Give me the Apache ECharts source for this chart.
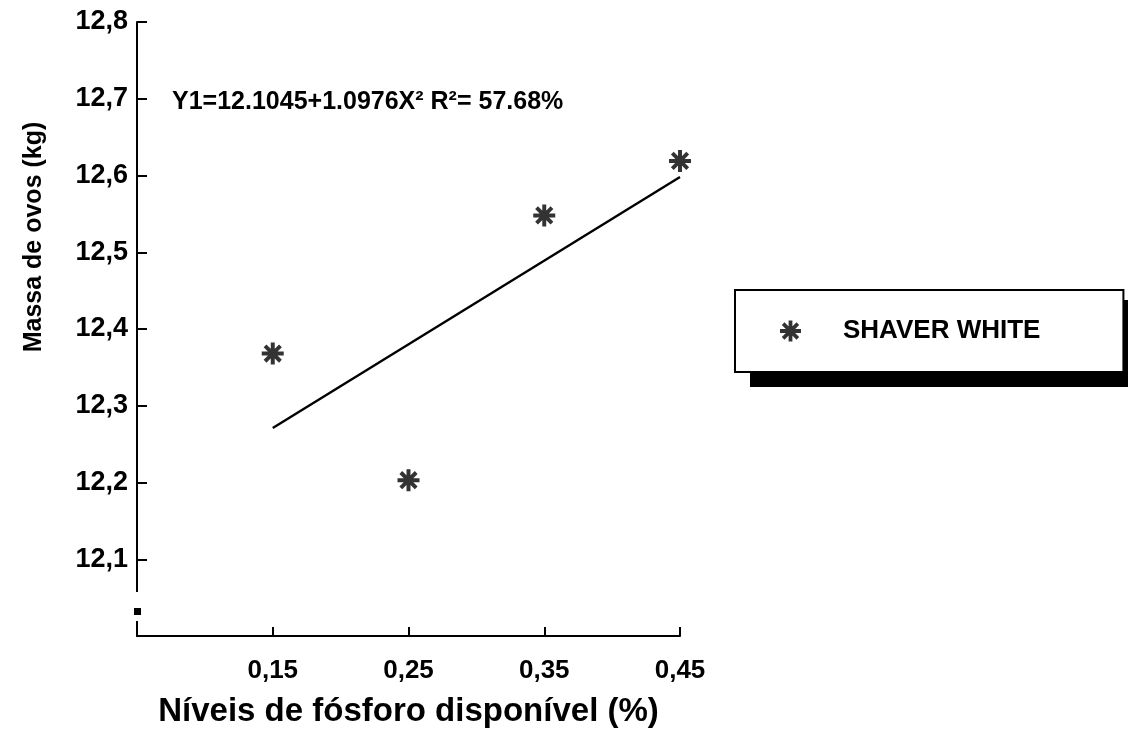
<!DOCTYPE html>
<html>
<head>
<meta charset="utf-8">
<script src="https://cdn.jsdelivr.net/npm/echarts@6/dist/echarts.min.js"></script>
<style>
html,body{margin:0;padding:0;background:#fff;}
#chart{width:1130px;height:733px;}
</style>
</head>
<body>
<div id="chart"></div>
<script>
// ---- data ----
const xLevels = [0.15, 0.25, 0.35, 0.45];
const eggMass = [12.368, 12.203, 12.548, 12.619];
const fitX = [0.15, 0.45];
const fitY = [12.271, 12.598];
const seriesName = 'SHAVER WHITE';
const equationText = 'Y1=12.1045+1.0976X² R²= 57.68%';
const xTitle = 'Níveis de fósforo disponível (%)';
const yTitle = 'Massa de ovos (kg)';

const FONT = '"Liberation Sans", Arial, sans-serif';
const STAR = 'path://M8.2 0 L11.8 0 L11.8 20 L8.2 20 Z M0 8.2 L20 8.2 L20 11.8 L0 11.8 Z M4.27 1.73 L18.27 15.73 L15.73 18.27 L1.73 4.27 Z M18.27 4.27 L4.27 18.27 L1.73 15.73 L15.73 1.73 Z';

const chart = echarts.init(document.getElementById('chart'), null, {renderer: 'canvas'});

const fmt = (v, hideVal) => Math.abs(v - hideVal) < 1e-9 ? '' : String(Number(v.toFixed(2))).replace('.', ',');

const yNameGraphic = {
  type: 'text', x: 34, y: 237, rotation: Math.PI / 2,
  style: {text: yTitle, font: 'bold 25px ' + FONT, fill: '#000', align: 'center', verticalAlign: 'middle'}
};
const legendShadow = {type: 'rect', shape: {x: 750, y: 300, width: 378, height: 87}, style: {fill: '#000'}, z: 3};

chart.setOption({
  backgroundColor: '#fff',
  animation: false,
  title: {
    text: equationText,
    left: 172, top: 90, padding: 0,
    textStyle: {fontFamily: FONT, fontWeight: 'bold', fontSize: 25, color: '#000'}
  },
  legend: {
    data: [seriesName],
    left: 735, top: 290, z: 5,
    orient: 'vertical',
    padding: [28, 83, 28, 45],
    itemWidth: 21, itemHeight: 21,
    backgroundColor: '#fff',
    borderColor: '#000', borderWidth: 2, borderRadius: 0,
    textStyle: {fontFamily: FONT, fontWeight: 'bold', fontSize: 26, color: '#000', padding: [0, 0, 0, 37]}
  },
  grid: {left: 137, right: 450, top: 22, bottom: 96},
  xAxis: {
    type: 'value', min: 0.05, max: 0.45, interval: 0.1,
    name: xTitle, nameLocation: 'middle', nameGap: 59,
    nameTextStyle: {fontFamily: FONT, fontWeight: 'bold', fontSize: 33, color: '#000'},
    axisLine: {show: true, lineStyle: {color: '#000', width: 2}},
    axisTick: {show: true, inside: true, length: 9, lineStyle: {color: '#000', width: 2}},
    axisLabel: {margin: 22, fontFamily: FONT, fontWeight: 'bold', fontSize: 26, color: '#000',
      formatter: v => fmt(v, 0.05)},
    splitLine: {show: false}
  },
  yAxis: {
    type: 'value', min: 12.0, max: 12.8, interval: 0.1,
    axisLine: {show: true, lineStyle: {color: '#000', width: 2}},
    axisTick: {show: true, inside: true, length: 10, lineStyle: {color: '#000', width: 2}},
    axisLabel: {margin: 9, fontFamily: FONT, fontWeight: 'bold', fontSize: 27, color: '#000',
      formatter: v => fmt(v, 12.0)},
    splitLine: {show: false}
  },
  series: [
    {
      name: 'ajuste', type: 'line', silent: true,
      data: fitX.map((x, i) => [x, fitY[i]]),
      showSymbol: false, symbol: 'none',
      lineStyle: {color: '#000', width: 2.4}
    },
    {
      name: seriesName, type: 'scatter',
      data: xLevels.map((x, i) => [x, eggMass[i]]),
      symbol: STAR, symbolSize: 22,
      itemStyle: {color: '#000'}
    }
  ],
  graphic: [yNameGraphic, legendShadow]
});

// axis break decoration near the origin, placed from the axes' own scale
const o = chart.convertToPixel({gridIndex: 0}, [0.05, 12.0]);
chart.setOption({
  graphic: [
    yNameGraphic,
    legendShadow,
    {type: 'rect', shape: {x: o[0] - 4, y: o[1] - 44, width: 8, height: 29}, style: {fill: '#fff'}, z: 100},
    {type: 'rect', shape: {x: o[0] - 3, y: o[1] - 28, width: 7, height: 7}, style: {fill: '#000'}, z: 101}
  ]
});
</script>
</body>
</html>
